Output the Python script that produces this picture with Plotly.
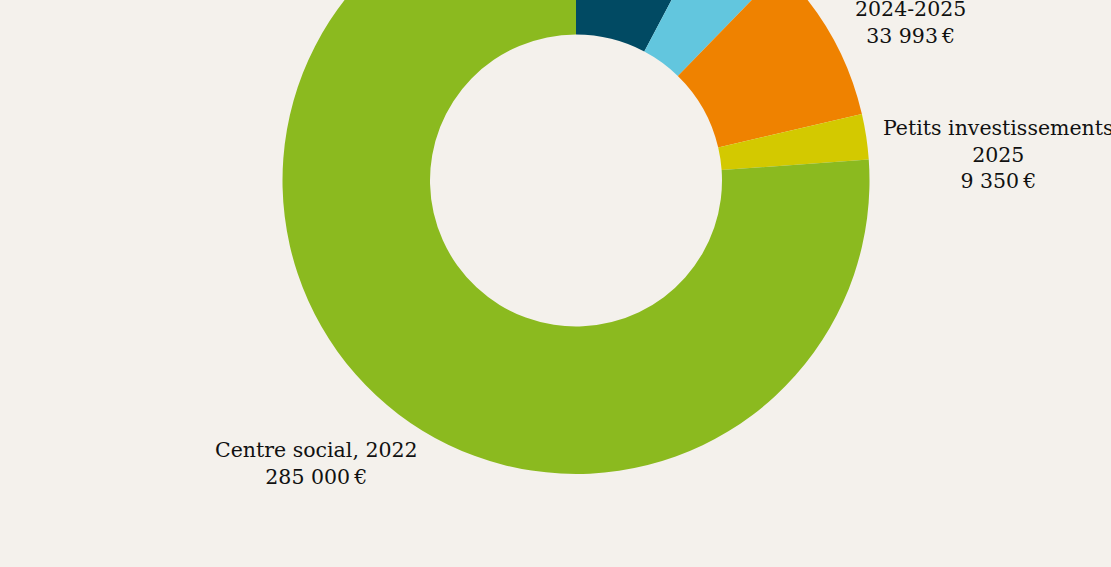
import plotly.graph_objects as go

# ---- data ----
labels = ["Projet, 2023", "Projet, 2024", "Projet, 2024-2025",
          "Petits investissements 2025", "Centre social, 2022"]
values = [29000, 17000, 33993, 9350, 285000]
colors = ["#014a63", "#62c6de", "#ef8200", "#d3c900", "#8bba1f"]

# visible label texts (first lines of the top labels are outside the view)
label_lines = {
    2: ["2024-2025"],
    3: ["Petits investissements", "2025"],
    4: ["Centre social, 2022"],
}

def euro(v):
    return f"{v:,}".replace(",", " ") + "\u202f€"

# ---- geometry (pixels of the visible window) ----
W, VIEW_H, SHIFT = 1111, 567, 130
H = VIEW_H + SHIFT
CX, CY, R = 576, 180.5, 293.5
HOLE = 146 / 293.5

def px(x):
    return x / W

def py(y):
    return 1 - (y + SHIFT) / H

BG = "#f4f1ec"

fig = go.Figure(go.Pie(
    labels=labels,
    values=values,
    marker=dict(colors=colors, line=dict(width=0)),
    hole=HOLE,
    sort=False,
    direction="clockwise",
    rotation=0,
    textinfo="none",
    textposition="none",
    showlegend=False,
    domain=dict(x=[px(CX - R), px(CX + R)], y=[py(CY + R), py(CY - R)]),
))

label_pos = {2: (910, 23), 3: (998, 154), 4: (316, 463)}
for i, (x, y) in label_pos.items():
    text = "<br>".join(label_lines[i] + [euro(values[i])])
    fig.add_annotation(
        x=px(x), y=py(y), xref="paper", yref="paper",
        text=text, showarrow=False, xanchor="center", yanchor="middle",
        align="center",
        font=dict(family="DejaVu Serif", size=20.5, color="#111111"),
    )

fig.update_layout(
    width=W, height=H,
    margin=dict(l=0, r=0, t=0, b=0),
    paper_bgcolor=BG, plot_bgcolor=BG,
)

post = (
    "document.body.style.margin='0';"
    "document.body.style.background='" + BG + "';"
    "document.body.style.overflow='hidden';"
    "var d=document.getElementById('{plot_id}');"
    "d.parentNode.style.marginTop='-" + str(SHIFT) + "px';"
)

fig.write_html("out.html", post_script=post)
